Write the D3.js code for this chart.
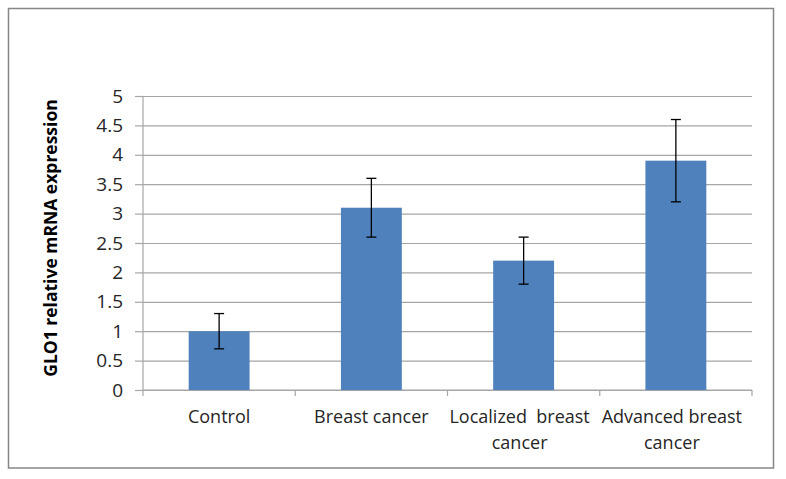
<!DOCTYPE html>
<html>
<head>
<meta charset="utf-8">
<script src="https://cdn.jsdelivr.net/npm/d3@7/dist/d3.min.js"></script>
<style>
  html, body { margin: 0; padding: 0; background: #fff; }
  svg { display: block; }
</style>
</head>
<body>
<svg id="chart" width="786" height="479"></svg>
<script>
// ---- data ----
const categories = ["Control", "Breast cancer", "Localized  breast cancer", "Advanced breast cancer"];
const categoryLines = [["Control"], ["Breast cancer"], ["Localized  breast", "cancer"], ["Advanced breast", "cancer"]];
const values = [1.0, 3.1, 2.2, 3.9];
const errLow = [0.7, 2.6, 1.8, 3.2];
const errHigh = [1.3, 3.6, 2.6, 4.6];
const yTicks = [0, 0.5, 1, 1.5, 2, 2.5, 3, 3.5, 4, 4.5, 5];
const yTitle = "GLO1 relative mRNA expression";

// ---- layout ----
const svg = d3.select("#chart");
const plot = { left: 143, right: 752, top: 96, bottom: 390 };

// outer border
svg.append("rect")
  .attr("x", 8.5).attr("y", 8.5)
  .attr("width", 765).attr("height", 459.5)
  .attr("fill", "#fff").attr("stroke", "#878787").attr("stroke-width", 1.5);

const x = d3.scaleBand().domain(categories).range([plot.left, plot.right]).paddingInner(0.6).paddingOuter(0.3);
const y = d3.scaleLinear().domain([0, 5]).range([plot.bottom, plot.top]);

// gridlines + y axis
const yAxis = d3.axisLeft(y).tickValues(yTicks).tickSize(-(plot.right - plot.left)).tickPadding(20)
  .tickFormat(d => String(d));
const gy = svg.append("g").attr("transform", `translate(${plot.left},0)`).call(yAxis);
gy.select(".domain").remove();
gy.selectAll(".tick line").attr("stroke", "#a6a6a6").attr("stroke-width", 1.2);
gy.selectAll(".tick").append("line")
  .attr("x1", -8).attr("x2", 0).attr("stroke", "#a6a6a6").attr("stroke-width", 1.2);
gy.selectAll(".tick text")
  .attr("font-family", "'Open Sans', sans-serif").attr("font-size", 19)
  .attr("fill", "#262626");

// vertical axis line
svg.append("line")
  .attr("x1", plot.left).attr("x2", plot.left)
  .attr("y1", y(5)).attr("y2", plot.bottom)
  .attr("stroke", "#a6a6a6").attr("stroke-width", 1.2);

// x axis
const boundaries = d3.range(categories.length + 1).map(i => plot.left + i * (plot.right - plot.left) / categories.length);
svg.append("line")
  .attr("x1", plot.left).attr("x2", plot.right)
  .attr("y1", plot.bottom).attr("y2", plot.bottom)
  .attr("stroke", "#a6a6a6").attr("stroke-width", 1.2);
svg.selectAll(".xtick").data(boundaries).enter().append("line")
  .attr("x1", d => d).attr("x2", d => d)
  .attr("y1", plot.bottom).attr("y2", plot.bottom + 6)
  .attr("stroke", "#a6a6a6").attr("stroke-width", 1.2);

// bars
svg.selectAll(".bar").data(categories).enter().append("rect")
  .attr("x", d => x(d))
  .attr("y", (d, i) => y(values[i]))
  .attr("width", x.bandwidth())
  .attr("height", (d, i) => y(0) - y(values[i]))
  .attr("fill", "#4f81bd");

// error bars
const err = svg.append("g").attr("stroke", "#000").attr("stroke-width", 1.3);
categories.forEach((c, i) => {
  const cx = x(c) + x.bandwidth() / 2;
  err.append("line").attr("x1", cx).attr("x2", cx).attr("y1", y(errLow[i])).attr("y2", y(errHigh[i]));
  err.append("line").attr("x1", cx - 5).attr("x2", cx + 5).attr("y1", y(errLow[i])).attr("y2", y(errLow[i]));
  err.append("line").attr("x1", cx - 5).attr("x2", cx + 5).attr("y1", y(errHigh[i])).attr("y2", y(errHigh[i]));
});

// x labels
categories.forEach((c, i) => {
  const cx = x(c) + x.bandwidth() / 2;
  const lines = categoryLines[i];
  const t = svg.append("text")
    .attr("font-family", "'Open Sans', sans-serif").attr("font-size", 18)
    .attr("fill", "#262626").attr("text-anchor", "middle")
    .style("white-space", "pre");
  lines.forEach((ln, j) => {
    t.append("tspan").attr("x", cx - (lines.length > 1 ? 4 : 0)).attr("y", 423 + j * 26).text(ln);
  });
});

// y title
svg.append("text")
  .attr("transform", `translate(57, 238) rotate(-90)`)
  .attr("text-anchor", "middle")
  .attr("font-family", "'Open Sans', sans-serif").attr("font-weight", "bold").attr("font-size", 17.5)
  .attr("fill", "#000")
  .text(yTitle);
</script>
</body>
</html>
